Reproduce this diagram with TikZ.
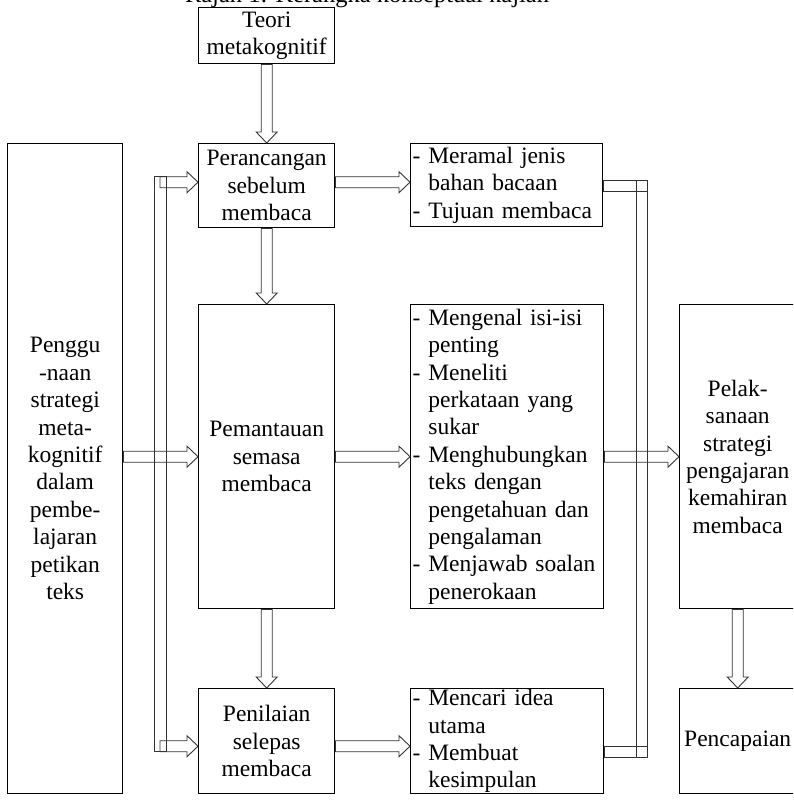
\documentclass[tikz,border=0pt]{standalone}
\usepackage{fontspec}
\setmainfont{Liberation Serif}
\usetikzlibrary{calc}
\newcommand{\HArrow}[2]{\draw[barrow] let \p1=(#1), \p2=(#2) in
  ({\x1},{\y2+5.5pt}) -- ({\x2-11pt},{\y2+5.5pt}) -- ({\x2-11pt},{\y2+10.5pt}) -- ({\x2},{\y2})
  -- ({\x2-11pt},{\y2-10.5pt}) -- ({\x2-11pt},{\y2-5.5pt}) -- ({\x1},{\y2-5.5pt}) -- cycle;}
\newcommand{\VArrow}[2]{\draw[barrow] let \p1=(#1), \p2=(#2) in
  ({\x2-5.5pt},{\y1}) -- ({\x2-5.5pt},{\y2+11pt}) -- ({\x2-10.5pt},{\y2+11pt}) -- ({\x2},{\y2})
  -- ({\x2+10.5pt},{\y2+11pt}) -- ({\x2+5.5pt},{\y2+11pt}) -- ({\x2+5.5pt},{\y1}) -- cycle;}
\tikzset{
  txt/.style={font=\fontsize{23.5}{27.4}\selectfont},
  box/.style={draw, line width=1.4pt, anchor=north west, inner sep=0pt, align=center, txt},
  listbox/.style={box, align=left, inner xsep=2pt},
  barrow/.style={draw=black!80, line width=0.9pt},
}
\begin{document}
\begin{tikzpicture}[x=1pt,y=-1pt]
\useasboundingbox (0,0) rectangle (793,800);
\clip (0,0) rectangle (793,800);
\node[font=\fontsize{24.5}{27.4}\selectfont, anchor=base] (title) at (367,3) {Rajah 1: Kerangka konseptual kajian};
\node[box, minimum width=136, minimum height=56] (T) at (198,7) {Teori\\metakognitif};
\node[box, minimum width=115, minimum height=650] (L) at (7,143)
  {Penggu\\-naan\\strategi\\meta-\\kognitif\\dalam\\pembe-\\lajaran\\petikan\\teks};
\node[box, minimum width=136, minimum height=84] (P1) at (198,143) {Perancangan\\sebelum\\membaca};
\node[box, minimum width=136, minimum height=304] (P2) at (198,304) {Pemantauan\\semasa\\membaca};
\node[box, minimum width=136, minimum height=105] (P3) at (198,688) {Penilaian\\selepas\\membaca};
\node[listbox, text width=188, minimum height=83] (M1) at (410,143)
  {- Meramal jenis\\\phantom{- }bahan bacaan\\- Tujuan membaca};
\node[listbox, text width=189, minimum height=304] (M2) at (410,304)
  {- Mengenal isi-isi\\\phantom{- }penting\\- Meneliti\\\phantom{- }perkataan yang\\\phantom{- }sukar\\- Menghubungkan\\\phantom{- }teks dengan\\\phantom{- }pengetahuan dan\\\phantom{- }pengalaman\\- Menjawab soalan\\\phantom{- }penerokaan};
\node[listbox, text width=189, minimum height=105] (M3) at (410,688)
  {- Mencari idea\\\phantom{- }utama\\- Membuat\\\phantom{- }kesimpulan};
\node[box, minimum width=116, minimum height=304] (R1) at (679,304)
  {Pelak-\\sanaan\\strategi\\pengajaran\\kemahiran\\membaca};
\node[box, minimum width=116, minimum height=105] (R2) at (679,688) {Pencapaian};
% vertical arrows
\VArrow{T.south}{P1.north}
\VArrow{P1.south}{P2.north}
\VArrow{P2.south}{P3.north}
\VArrow{R1.south}{R2.north}
% horizontal arrows
\HArrow{P1.east}{[yshift=3pt]M1.west}
\HArrow{P2.east}{M2.west}
\HArrow{P3.east}{[yshift=-5pt]M3.west}
\HArrow{L.east}{P2.west}
\HArrow{M2.east}{R1.west}
% left bus
\coordinate (bLt) at (160,181.5);
\coordinate (bLb) at (160,745.5);
\draw[barrow] (154,176) rectangle (166,751);
\HArrow{bLt}{[yshift=3.5pt]P1.west}
\HArrow{bLb}{[yshift=-5pt]P3.west}
% right bus
\coordinate (bRt) at (647,191);
\coordinate (bRb) at (647,757);
\draw[barrow] (636,180) rectangle (bRb);
\draw[barrow] let \p1=(M1.east) in (\x1,-180pt) rectangle (bRt);
\draw[barrow] let \p1=(M3.east) in (\x1,-746pt) rectangle (bRb);
\end{tikzpicture}
\end{document}
